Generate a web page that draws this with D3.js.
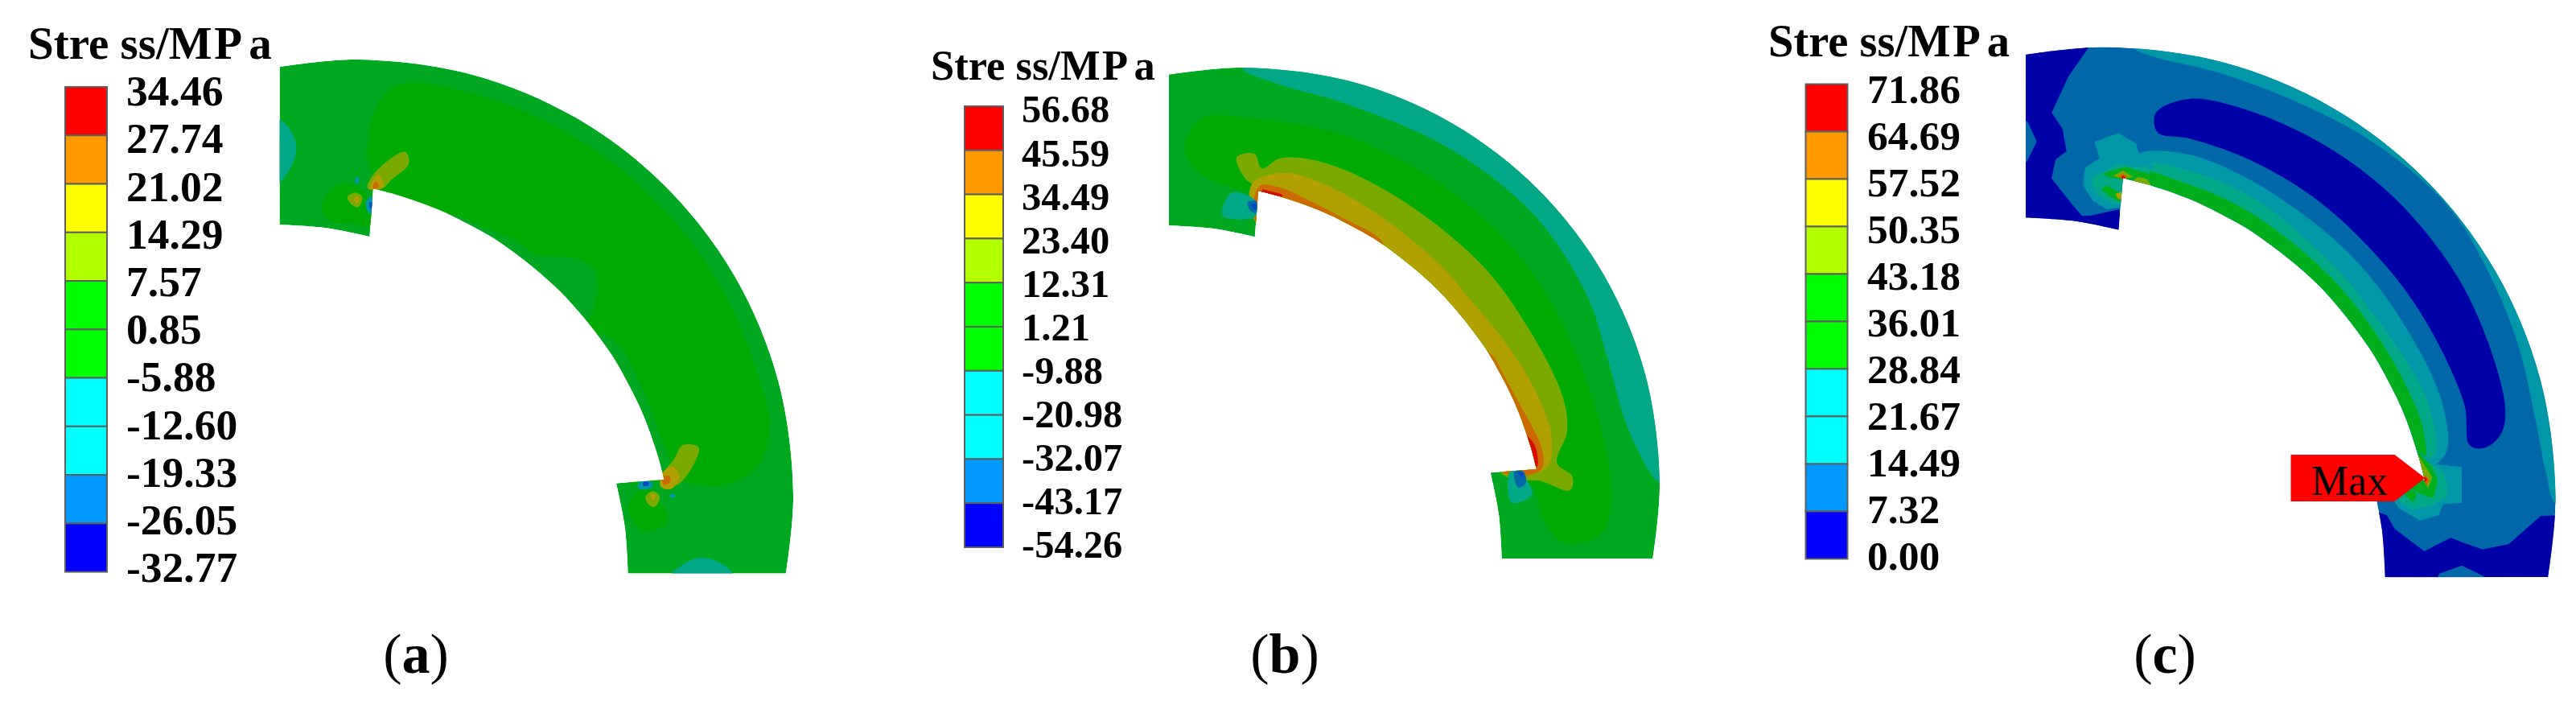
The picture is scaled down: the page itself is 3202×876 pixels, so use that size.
<!DOCTYPE html>
<html>
<head>
<meta charset="utf-8">
<script src="https://cdn.jsdelivr.net/npm/d3@7"></script>
<style>
html, body { margin: 0; padding: 0; background: #fff; overflow: hidden; }
text { font-family: "Liberation Serif", serif; fill: #000; }
</style>
</head>
<body>
<div id="chart"></div>
<script>
// legend values, top to bottom
const labelsA = ["34.46","27.74","21.02","14.29","7.57","0.85","-5.88","-12.60","-19.33","-26.05","-32.77"]
const labelsB = ["56.68","45.59","34.49","23.40","12.31","1.21","-9.88","-20.98","-32.07","-43.17","-54.26"]
const labelsC = ["71.86","64.69","57.52","50.35","43.18","36.01","28.84","21.67","14.49","7.32","0.00"]
const legendColors = ["#ff0000","#ff9900","#ffff00","#b2ff00","#00ff00","#00ff00","#00ffff","#00ffff","#0099ff","#0000ff"]

// contour levels as the solver shades them
const levels = ["base","core","tealgreen","teal","steel","navy","olive","ochre","orange","red","blue","green"]
const levelColors = ["#00a824","#00aa00","#00a888","#0098a8","#0068a8","#0000a8","#7aaa00","#b0a000","#cc6a00","#d81000","#0048c0","#00ad1e"]

// ring geometry, all as [angle from 12 o'clock in degrees, radius in % of the outer radius]
const outerEdge = [[-10.5,100],[0,100],[15,100],[30,100],[45,100],[60,100],[75,100],[90,100],[100.5,100]]
const innerArcAB = [[2.7,70.4],[7,69.5],[15,68.1],[22,67.1],[30,66.4],[45,65.8],[60,66.4],[68,67.1],[75,68.1],[83,69.5],[87.3,70.4]]
const innerArcC = [[2.8,70.9],[7,70],[15,68.7],[22,67.7],[30,67],[45,66.5],[60,67],[68,67.7],[75,68.7],[83,70],[87.2,70.9]]
const endRight = [[106.4,64.6],[97,61.7],[87.6,59.3]]
const endLeft = [[2.4,59.3],[-7,61.7],[-16.4,64.6]]

const fieldA = [
  ["core",[[1.5,80],[2.3,88],[5.4,94.5],[15,95.8],[30,96],[45,96],[60,96],[75,96],[81,95.7],[86,92],[88.6,84],[88.1,76],[87.4,71],[87.5,62],[60,60],[30,60],[3,62],[3,71],[1.4,78]]],
  ["base",[[16,62],[18,67.6],[25,67.8],[32.1,68.6],[36.2,68.4],[42.8,73.8],[46.7,74.8],[51.1,70],[52.7,66.5],[52.7,60],[30,60]]],
  ["base",[[55,60],[56.5,66.8],[60.4,69],[69.1,69.6],[78,70.5],[85,71.5],[85,62]]],
  ["core",[[-7.4,66.1],[-5.4,70.2],[-2.4,71.5],[1.6,69],[2.4,61.9],[-2.2,62.5],[-5.6,62.9]]],
  ["core",[[92.9,62.1],[88.7,65.8],[93.4,70.9],[95.5,71.1],[97.3,65.7]]],
  ["tealgreen",[[-18,74],[-14.2,74],[-10.2,81],[-11.9,88],[-18,88]]],
  ["tealgreen",[[104.3,74.3],[100.5,80.2],[102,88],[108,88],[108,74]]],
  ["olive",[[1.6,70.5],[3,74.3],[7.7,79.5],[8.6,76.9],[5.9,72.7],[4.6,70.7],[2.8,70]]],
  ["ochre",[[2.1,70.5],[3.5,73.7],[4.6,71],[3.2,70.2]]],
  ["orange",[[2.6,70.5],[3.1,72.1],[3.7,71],[3.1,70.3]]],
  ["olive",[[-2.2,68.4],[-0.7,69.4],[0.7,68.3],[-0.2,66],[-1.5,66.8]]],
  ["ochre",[[-1,67.8],[-0.4,68.5],[0.1,67.8],[-0.4,67]]],
  ["teal",[[1.4,67.4],[2.4,68.4],[2.8,64.7],[2,64.7]]],
  ["blue",[[2.1,67.2],[2.7,67.2],[2.8,65.8],[2.3,65.8]]],
  ["teal",[[-0.7,72],[-0.3,73],[0.1,72.4],[-0.3,71.4]]],
  ["olive",[[81.4,75.4],[82.2,79],[88.1,73.9],[88.6,69.6],[86.6,69.7],[83.6,73.1]]],
  ["ochre",[[86.2,70],[85,72.5],[87,74],[89,72],[88.7,69.7]]],
  ["orange",[[86.9,70],[86.6,71.6],[87.8,71.7],[88.2,70.2]]],
  ["olive",[[90.5,66],[89.4,67.7],[90.5,69.3],[92.5,68.1],[91.7,66.4]]],
  ["ochre",[[90.2,67.2],[89.9,67.8],[90.6,68.4],[91.2,67.6]]],
  ["teal",[[87.6,64.5],[87.6,67.5],[88.7,67.5],[88.9,64.5]]],
  ["blue",[[87.6,65.5],[87.6,66.8],[88.2,66.8],[88.3,65.5]]],
  ["teal",[[90,72],[90.3,73],[90.7,72.3],[90.3,71.5]]]
]

const fieldB = [
  ["tealgreen",[[-0.4,100],[4.3,96.6],[15.2,94.5],[32,94.5],[47.7,95],[61.6,94],[70.4,92.5],[82.4,93.5],[90,100],[90,104],[45,104],[0,104]]],
  ["core",[[-10,82.8],[-6.5,88.5],[-0.1,88],[16.5,87],[35,86],[52.9,85.8],[73.7,86],[91.8,88.3],[98.3,86.7],[100.5,77.8],[97.3,72.8],[90.5,69],[88,62],[45,60],[3,62],[2.7,70.4],[0,70.4],[-7.7,74.7],[-10,79.6]]],
  ["olive",[[-1.4,78.4],[1.7,79.3],[3.2,75.8],[6.2,78.6],[13.4,79.5],[28.3,78],[47,77.6],[60.5,77.8],[74.7,79.4],[80.9,78.7],[86.3,75.4],[88.9,79],[91.3,78.4],[89.7,71.5],[88,62],[45,60],[3,62],[2.7,70.5],[0,73.5]]],
  ["ochre",[[1.4,71.9],[6.5,75.1],[12.2,75],[26,72.3],[43,70.5],[50,70],[59.6,71],[70,73],[77.9,74.5],[82.2,74.7],[87.1,72.9],[87.6,62],[45,60],[3,62]]],
  ["orange",[[2.8,71.5],[7,71.6],[12,70],[20,68.1],[30,66.7],[32,62],[3,62]]],
  ["orange",[[58,62],[62,66.8],[68,67.7],[75,69.2],[80,71],[84,72.2],[87.5,71.5],[87.5,62]]],
  ["red",[[3.5,70.7],[5,70.5],[7.5,69.8],[5,67],[3.2,68]]],
  ["red",[[80,68],[82,70.2],[85,70.9],[86.8,70.5],[86,66]]],
  ["tealgreen",[[-2.6,69.9],[2.2,68],[2.3,64.2],[-4.7,64.6]]],
  ["steel",[[0.6,67.6],[2.4,67.9],[2.4,65],[1.2,65.6]]],
  ["blue",[[1.5,67],[2.4,67.2],[2.4,65.8]]],
  ["tealgreen",[[94.2,64.5],[92.3,69.4],[87.6,66],[87.6,64]]],
  ["steel",[[87.7,65],[87.7,67.2],[90,67.8],[91,66]]],
  ["blue",[[87.8,65.8],[87.8,67],[89,67.2]]]
]

const fieldC = [
  ["teal",[[3.5,100],[5.8,98.5],[15,97.5],[27,97.5],[38,98.7],[50,99.7],[60,98.5],[70,97.6],[80,97],[87,98],[91,100],[91,104],[45,104],[3.5,104]]],
  ["navy",[[7.2,86],[11.6,90.3],[20.8,91.5],[33.3,92],[46,92.2],[60.7,92],[77.1,91],[81.1,88.9],[82.8,85],[82.1,81.6],[75.7,82.2],[62,81],[50.7,80.5],[36,80.8],[23.4,81.3],[12.9,81.7],[7.9,81.7]]],
  ["teal",[[5,76],[6.3,77.2],[14,78.2],[27,77],[46,76.3],[62,76.5],[75,77.5],[83,76],[85,70],[45,60],[5,68]]],
  ["tealgreen",[[5,74],[14,74.7],[27,73.8],[46,72],[52,71.7],[65,73],[75,74.5],[83,73.5],[85,68],[45,60],[5,66]]],
  ["green",[[4.5,72.5],[14,71.8],[27,70.7],[46,69.7],[60,70],[70,71],[78,72],[84,71],[85,66],[45,60],[5,64]]]
]

const facetsC = [
  ["navy",[[-2.5,104],[-2.5,99.8],[-5.3,93.9],[-8.3,86.3],[-7,82.4],[-6.8,77.3],[-8.8,75.8],[-10,71.8],[-6.8,65.2],[-5.2,62.6],[-3.5,62.5],[2.5,63.9],[2.6,58],[-20,58],[-20,104]]],
  ["steel",[[-12.1,85.4],[-11.3,80.5],[-13.6,76.6],[-18,76],[-18,86]]],
  ["teal",[[-2.1,78.9],[1.7,80.9],[4.6,78.8],[5.5,75.9],[6.3,77.2],[8,74],[4,70],[2.7,64.5],[0,63.8],[-2.8,65.7],[-4.5,69.4],[-3.9,73.3],[-1.3,75.2]]],
  ["tealgreen",[[-0.9,72.2],[1.9,74.1],[4.5,73.4],[7,74],[8,71],[3,70.5],[2.7,65.3],[1.1,65.1],[-1.7,66.9],[-2.7,69],[-2.8,71.1]]],
  ["green",[[-0.7,71.9],[3.3,73.5],[5.2,72.8],[9,72.2],[9,70],[3,70.5],[0,71]]],
  ["green",[[-1.2,68.3],[0,69.2],[2.3,67.5],[2.6,65.4],[0.3,66.8]]],
  ["olive",[[1,71.3],[2.7,72.6],[4.6,71.3],[2.9,70.7]]],
  ["olive",[[4.2,70],[5.5,71.4],[7,71.2],[8,70],[6,69]]],
  ["orange",[[1.8,71.2],[2.7,72],[3.6,71.2],[2.9,70.7]]],
  ["red",[[2.4,71],[2.8,71.5],[3.3,71],[2.9,70.6]]],
  ["ochre",[[1.5,67.3],[2.7,67.8],[2.7,66],[2,66.3]]],
  ["navy",[[93,58],[94,62.5],[96.6,64.5],[100,71.8],[97,77.2],[97.5,79.7],[98.2,84.6],[96.9,90.2],[92.7,96.8],[92.4,104],[110,104],[110,58]]],
  ["steel",[[103.3,76],[101.2,80.6],[102.1,85.9],[106,86],[106,76]]],
  ["teal",[[84.6,74],[85,76.4],[85.4,79.3],[91.2,79.1],[91.5,74.9],[93.4,74.1],[94.6,70],[92.5,65],[88,62],[82,70]]],
  ["tealgreen",[[84,72],[86,75],[88.5,76],[90.5,75.5],[92,71.5],[92.6,68],[91,65],[88,63]]],
  ["green",[[82,70],[84.6,72.5],[87.3,73.8],[90.4,72.8],[90.2,71.3],[89,68]]],
  ["green",[[90,66.5],[91.4,68.3],[89.6,69.2],[88.5,66.5]]],
  ["olive",[[82,69.6],[84.4,71],[86.8,72.6],[88.7,71.6],[87,70.5],[84,69]]],
  ["orange",[[86.3,71],[87.3,72],[88.3,71.2],[87,70.6]]],
  ["red",[[86.7,71],[87.1,71.5],[87.6,71],[87,70.7]]]
]

// layout of the three panels in page pixels
const panels = [
  { cx:446, cy:614, R:540, base:"base", inner:innerArcAB, field:fieldA, facets:[], labels:labelsA,
    legend:{x:81, w:52, y0:108, y1:710.6}, labelX:157, labelY:[113,705], labelSize:53.5,
    title:{x:35, y:73, size:57}, caption:{x:517, letter:"a"} },
  { cx:1547, cy:600, R:516, base:"base", inner:innerArcAB, field:fieldB, facets:[], labels:labelsB,
    legend:{x:1199, w:48, y0:132, y1:680}, labelX:1270, labelY:[136,677], labelSize:48.5,
    title:{x:1157, y:99, size:52.5}, caption:{x:1597, letter:"b"} },
  { cx:2619.6, cy:615.6, R:557, base:"steel", inner:innerArcC, field:fieldC, facets:facetsC, labels:labelsC,
    legend:{x:2244.5, w:52, y0:104.5, y1:694.4}, labelX:2321, labelY:[110,690], labelSize:51.5,
    title:{x:2198, y:70, size:56.5}, caption:{x:2691, letter:"c"} }
]

const width = 3202, height = 876
const color = d3.scaleOrdinal().domain(levels).range(levelColors)
const angle = d3.scaleLinear().domain([0,360]).range([0,2*Math.PI])

const svg = d3.select("#chart").append("svg")
  .attr("width", width)
  .attr("height", height)
  .style("display", "block")

svg.append("filter").attr("id", "soft")
  .attr("filterUnits", "userSpaceOnUse")
  .attr("x", 0).attr("y", 0)
  .attr("width", width).attr("height", height)
  .append("feGaussianBlur").attr("stdDeviation", 0.7)

const root = svg.append("g").attr("filter", "url(#soft)")

panels.forEach(function(p, i) {

  const radius = d3.scaleLinear().domain([0,100]).range([0,p.R])
  const radial = curve => d3.lineRadial().angle(d => angle(d[0])).radius(d => radius(d[1])).curve(curve)
  const smooth = radial(d3.curveCatmullRom)
  const closed = radial(d3.curveCatmullRomClosed.alpha(0.5))
  const facet = radial(d3.curveLinearClosed)

  // outline = outer arc, right end, inner arc, left end
  const outline = [
    smooth(outerEdge),
    smooth(endRight),
    smooth(p.inner.slice().reverse()),
    smooth(endLeft)
  ].map((s, k) => k ? s.replace(/^M/, "L") : s).join("") + "Z"

  const g = root.append("g").attr("transform", `translate(${p.cx},${p.cy})`)

  svg.append("clipPath").attr("id", "ring" + i)
    .append("path").attr("d", outline)

  const ring = g.append("g").attr("clip-path", `url(#ring${i})`)

  ring.append("path").attr("d", outline).attr("fill", color(p.base))

  ring.selectAll(".band")
    .data(p.field)
    .enter().append("path")
    .attr("class", "band")
    .attr("fill", d => color(d[0]))
    .attr("d", d => closed(d[1]))

  ring.selectAll(".facet")
    .data(p.facets)
    .enter().append("path")
    .attr("class", "facet")
    .attr("fill", d => color(d[0]))
    .attr("d", d => facet(d[1]))

  // legend
  const cells = d3.scaleBand().domain(legendColors.map((c, k) => k)).range([p.legend.y0, p.legend.y1])
  const ticks = d3.scalePoint().domain(p.labels).range(p.labelY)

  root.selectAll(".cell" + i)
    .data(legendColors)
    .enter().append("rect")
    .attr("class", "cell" + i)
    .attr("x", p.legend.x)
    .attr("width", p.legend.w)
    .attr("y", (d, k) => cells(k))
    .attr("height", cells.bandwidth())
    .attr("fill", d => d)
    .attr("stroke", "#5f5f5f")
    .attr("stroke-width", 2)

  root.selectAll(".tick" + i)
    .data(p.labels)
    .enter().append("text")
    .attr("class", "tick" + i)
    .attr("x", p.labelX)
    .attr("y", d => ticks(d))
    .attr("dy", "0.34em")
    .attr("font-size", p.labelSize)
    .attr("font-weight", "bold")
    .text(d => d)

  // the original has uneven gaps inside the title
  const title = root.append("text")
    .attr("x", p.title.x)
    .attr("y", p.title.y)
    .attr("font-size", p.title.size)
    .attr("font-weight", "bold")
  title.append("tspan").text("Stre")
  title.append("tspan").attr("dx", "0.25em").text("ss/M")
  title.append("tspan").attr("dx", "0.05em").text("P")
  title.append("tspan").attr("dx", "0.14em").text("a")

  const caption = root.append("text")
    .attr("x", p.caption.x)
    .attr("y", 836)
    .attr("text-anchor", "middle")
    .attr("font-size", 70)
  caption.append("tspan").text("(")
  caption.append("tspan").attr("font-weight", "bold").text(p.caption.letter)
  caption.append("tspan").text(")")
})

// Max marker on the third panel
const arrow = d3.line()
root.append("path")
  .attr("d", arrow([[2847.5,565],[2976.6,565],[3014.4,594],[2976.6,623],[2847.5,623]]) + "Z")
  .attr("fill", "#ff0000")

root.append("text")
  .attr("x", 2873)
  .attr("y", 614.5)
  .attr("font-size", 52)
  .text("Max")
</script>
</body>
</html>
